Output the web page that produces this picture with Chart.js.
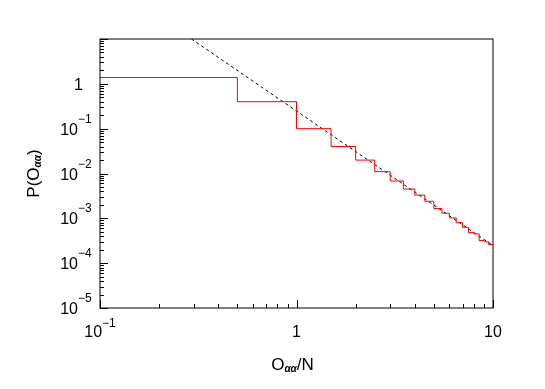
<!DOCTYPE html>
<html lang="en">
<head>
  <meta charset="UTF-8">
  <title>P(O_aa) vs O_aa/N</title>
  <script src="https://cdn.jsdelivr.net/npm/chart.js@4.4.0/dist/chart.umd.min.js"></script>
  <style>
    body { margin: 0; background: #fff; }
  </style>
</head>
<body>
  <canvas id="grafica" width="545" height="389"></canvas>

  <script>
    // histogram: bin edges and contents
    const binEdges = [0.1, 0.5, 1, 1.5, 2, 2.5, 3, 3.5, 4, 4.5, 5, 5.5, 6, 6.5, 7, 7.5, 8, 8.5, 9, 9.5, 10];
    const binValues = [1.38, 0.40, 0.100, 0.040, 0.0199, 0.0110, 0.0068, 0.0045, 0.0033, 0.0024,
                       0.00165, 0.00130, 0.00102, 0.00080, 0.00063, 0.00048, 0.00045, 0.00032, 0.00030, 0.00026];

    // dashed power law, end points
    const fitX = [0.292, 10];
    const fitY = [10, 0.000246];

    // tick labels
    const xTickVals = [0.1, 1, 10];
    const xTickBase = ['10', '1', '10'];
    const xTickExp = ['\u22121', '', ''];
    const yTickVals = [1, 0.1, 0.01, 0.001, 0.0001, 0.00001];
    const yTickBase = ['1', '10', '10', '10', '10', '10'];
    const yTickExp = ['', '\u22121', '\u22122', '\u22123', '\u22124', '\u22125'];

    const FONT = '"Liberation Sans", Arial, sans-serif';

    // histogram as points, last edge repeats last value
    const histPoints = binEdges.map((e, i) => ({ x: e, y: binValues[Math.min(i, binValues.length - 1)] }));
    const fitPoints = fitX.map((x, i) => ({ x: x, y: fitY[i] }));

    // text with optional superscript / subscript pieces
    function piecesWidth(ctx, pieces) {
      let w = 0;
      pieces.forEach(p => { ctx.font = p.font; w += ctx.measureText(p.text).width; });
      return w;
    }
    function drawPieces(ctx, pieces, x, y) {
      pieces.forEach(p => {
        ctx.font = p.font;
        ctx.fillText(p.text, x, y + (p.dy || 0));
        x += ctx.measureText(p.text).width;
      });
    }

    const framePlugin = {
      id: 'frame',
      afterDatasetsDraw(chart) {
        const ctx = chart.ctx;
        const a = chart.chartArea;
        const xs = chart.scales.x;
        const ys = chart.scales.y;
        ctx.save();
        ctx.strokeStyle = '#000';
        ctx.lineWidth = 1;
        ctx.strokeRect(a.left, a.top, a.right - a.left, a.bottom - a.top);

        // ticks pointing inward, bottom and left only
        ctx.beginPath();
        for (let e = -5; e <= 1; e++) {
          for (let m = 1; m <= 9; m++) {
            const v = m * Math.pow(10, e);
            if (v < ys.min * 0.999 || v > ys.max * 1.001) continue;
            const py = Math.round(ys.getPixelForValue(v)) + 0.5;
            ctx.moveTo(a.left, py);
            ctx.lineTo(a.left + (m === 1 ? 8 : 4), py);
          }
        }
        for (let e = -1; e <= 1; e++) {
          for (let m = 1; m <= 9; m++) {
            const v = m * Math.pow(10, e);
            if (v < xs.min * 0.999 || v > xs.max * 1.001) continue;
            const px = Math.round(xs.getPixelForValue(v)) + 0.5;
            ctx.moveTo(px, a.bottom);
            ctx.lineTo(px, a.bottom - (m === 1 ? 8 : 4));
          }
        }
        ctx.stroke();

        ctx.fillStyle = '#000';
        ctx.textBaseline = 'alphabetic';
        ctx.textAlign = 'left';

        // x tick labels, centred under the tick
        xTickVals.forEach((v, i) => {
          const pieces = [{ text: xTickBase[i], font: '16px ' + FONT }];
          if (xTickExp[i]) pieces.push({ text: xTickExp[i], font: '12px ' + FONT, dy: -10 });
          const w = piecesWidth(ctx, pieces);
          drawPieces(ctx, pieces, xs.getPixelForValue(v) - w / 2, a.bottom + 29);
        });

        // y tick labels
        yTickVals.forEach((v, i) => {
          const py = ys.getPixelForValue(v);
          ctx.font = '16px ' + FONT;
          const wb = ctx.measureText(yTickBase[i]).width;
          if (yTickExp[i]) {
            drawPieces(ctx, [
              { text: yTickBase[i], font: '16px ' + FONT },
              { text: yTickExp[i], font: '12px ' + FONT, dy: -12 }
            ], 78 - wb, py + 6);
          } else {
            drawPieces(ctx, [{ text: yTickBase[i], font: '16px ' + FONT }], 83 - wb, py + 6);
          }
        });

        // x title
        const xt = [
          { text: 'O', font: '17px ' + FONT },
          { text: '\u03b1\u03b1', font: 'italic bold 10px ' + FONT, dy: 2 },
          { text: '/N', font: '17px ' + FONT }
        ];
        drawPieces(ctx, xt, (a.left + a.right) / 2 - 4 - piecesWidth(ctx, xt) / 2, 370);

        // y title, rotated
        const yt = [
          { text: 'P(O', font: '17px ' + FONT },
          { text: '\u03b1\u03b1', font: 'italic bold 10px ' + FONT, dy: 2 },
          { text: ')', font: '17px ' + FONT }
        ];
        ctx.translate(39, (a.top + a.bottom) / 2);
        ctx.rotate(-Math.PI / 2);
        drawPieces(ctx, yt, -piecesWidth(ctx, yt) / 2, 0);
        ctx.restore();
      }
    };

    const ctx = document.getElementById('grafica').getContext('2d');
    new Chart(ctx, {
      type: 'line',
      data: {
        datasets: [{
          data: histPoints,
          borderColor: '#ff0000',
          borderWidth: 1,
          stepped: true,
          pointRadius: 0,
          fill: false
        }, {
          data: fitPoints,
          borderColor: '#000',
          borderWidth: 1,
          borderDash: [3, 3],
          pointRadius: 0,
          fill: false
        }]
      },
      options: {
        responsive: false,
        animation: false,
        devicePixelRatio: 1,
        layout: { padding: { left: 100, top: 39, right: 52, bottom: 81 } },
        plugins: { legend: { display: false }, tooltip: { enabled: false } },
        scales: {
          x: { type: 'logarithmic', min: 0.1, max: 10, display: false },
          y: { type: 'logarithmic', min: 0.00001, max: 10, display: false }
        }
      },
      plugins: [framePlugin]
    });
  </script>
</body>
</html>
